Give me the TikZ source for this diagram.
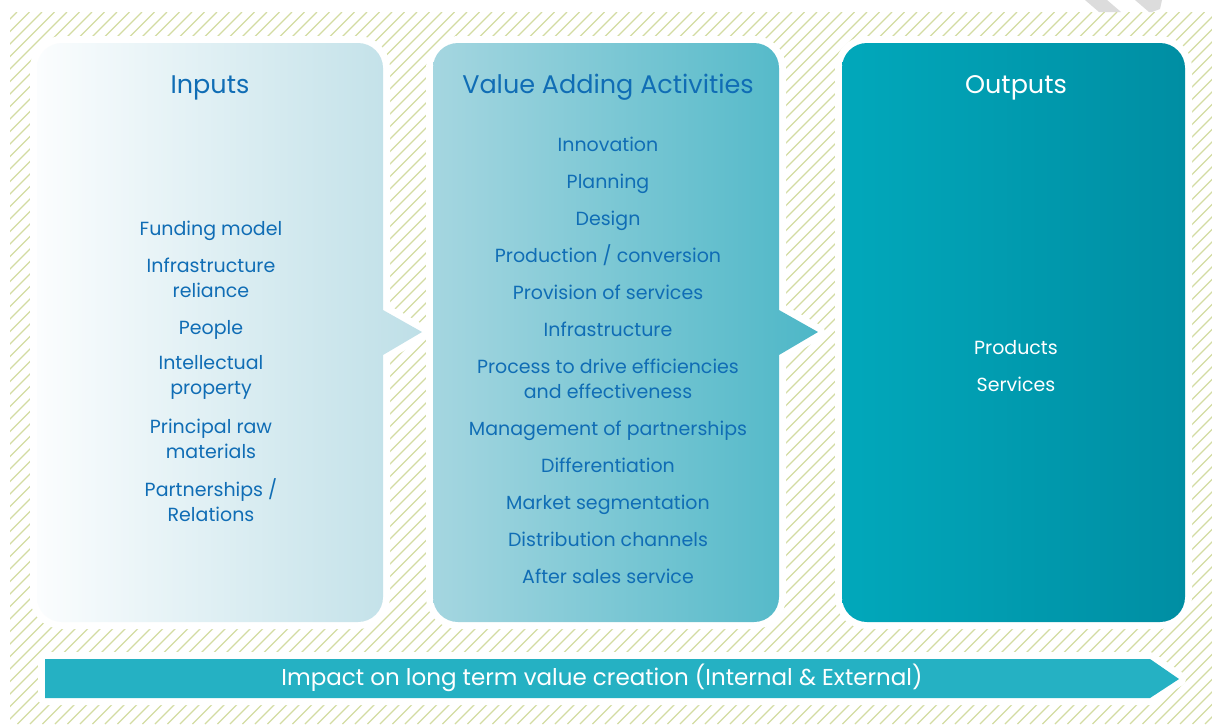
\documentclass[tikz,border=0pt]{standalone}
\usepackage{fontspec}
\setmainfont{Poppins}
\usetikzlibrary{calc}
\definecolor{hatch}{HTML}{D3DCA2}
\definecolor{txtblue}{HTML}{106DB5}
\definecolor{inL}{HTML}{FBFDFE}
\definecolor{inR}{HTML}{BEDFE7}
\definecolor{vaL}{HTML}{A5D6E0}
\definecolor{vaR}{HTML}{4DB7C7}
\definecolor{outL}{HTML}{01A8BB}
\definecolor{outR}{HTML}{008EA3}
\definecolor{impact}{HTML}{25B1C3}
\definecolor{wmark}{HTML}{DCDCDC}
\tikzset{
  halo/.style={draw=white, line width=14pt, line join=round},
  title/.style={font=\fontsize{25.5}{30}\selectfont, anchor=base},
  item/.style={font=\fontsize{19}{25}\selectfont, align=center, text=txtblue},
  one/.style={item, text height=19.5pt, text depth=4.5pt},
  bluetitle/.style={title, text=txtblue},
  whiteitem/.style={one, text=white},
}
\begin{document}
\begin{tikzpicture}[x=1pt,y=-1pt]
\useasboundingbox (0,0) rectangle (1212,724);
\fill[white] (0,0) rectangle (1212,724);
% watermark fragments
\fill[wmark] (1085,0) -- (1107,0) -- (1121,12) -- (1099,12) -- cycle;
\fill[wmark] (1135,0) -- (1162,0) -- (1160,9) -- (1152,12) -- (1149,12) -- cycle;
% hatched background
\begin{scope}
\clip (10,12) rectangle (1212,724);
\foreach \i in {0,...,156}{
  \draw[hatch, line width=1.3pt] ({-720+12.5*\i},724) -- ({-8+12.5*\i},12);
}
\end{scope}
% shapes
\def\inpath{(62,43) -- (358,43) arc[start angle=-90,end angle=0,radius=25] -- (383,310) -- (422,332) -- (383,355) -- (383,597) arc[start angle=0,end angle=90,radius=25] -- (62,622) arc[start angle=90,end angle=180,radius=25] -- (37,68) arc[start angle=180,end angle=270,radius=25] -- cycle}
\def\vapath{(458,43) -- (754,43) arc[start angle=-90,end angle=0,radius=25] -- (779,310) -- (818,332) -- (779,355) -- (779,597) arc[start angle=0,end angle=90,radius=25] -- (458,622) arc[start angle=90,end angle=180,radius=25] -- (433,68) arc[start angle=180,end angle=270,radius=25] -- cycle}
\def\outpath{(867,43) -- (1160,43) arc[start angle=-90,end angle=0,radius=25] -- (1185,597) arc[start angle=0,end angle=90,radius=25] -- (867,622) arc[start angle=90,end angle=180,radius=25] -- (842,68) arc[start angle=180,end angle=270,radius=25] -- cycle}
\def\impactpath{(45,659) -- (1150,659) -- (1179,679) -- (1150,698) -- (45,698) -- cycle}
\draw[halo] \inpath;
\draw[halo] \vapath;
\draw[halo] \outpath;
\draw[halo] \impactpath;
\shade[left color=inL, right color=inR] \inpath;
\shade[left color=vaL, right color=vaR] \vapath;
\shade[left color=outL, right color=outR] \outpath;
\fill[impact] \impactpath;
% titles
\node[bluetitle] (tin) at (210,93) {Inputs};
\node[bluetitle] (tva) at (608,93) {Value Adding Activities};
\node[title, text=white] (tout) at (1016,93) {Outputs};
% inputs
\node[one] (i1) at (211,228) {Funding model};
\node[item] (i2) at (211,278) {Infrastructure\\reliance};
\node[one] (i3) at (211,327) {People};
\node[item] (i4) at (211,377) {Intellectual\\property};
\node[item] (i5) at (211,439) {Principal raw\\materials};
\node[item] (i6) at (211,500) {Partnerships /\\Relations};
% value adding
\node[one] (v1) at (608,144) {Innovation};
\node[one] (v2) at (608,181) {Planning};
\node[one] (v3) at (608,218) {Design};
\node[one] (v4) at (608,255) {Production / conversion};
\node[one] (v5) at (608,292) {Provision of services};
\node[one] (v6) at (608,329) {Infrastructure};
\node[item] (v7) at (608,379) {Process to drive efficiencies\\and effectiveness};
\node[one] (v8) at (608,428) {Management of partnerships};
\node[one] (v9) at (608,465) {Differentiation};
\node[one] (v10) at (608,502) {Market segmentation};
\node[one] (v11) at (608,539) {Distribution channels};
\node[one] (v12) at (608,576) {After sales service};
% outputs
\node[whiteitem] (o1) at (1016,347) {Products};
\node[whiteitem] (o2) at (1016,384) {Services};
% impact
\node[font=\fontsize{23}{28}\selectfont, text=white] (imp) at (602,678) {Impact on long term value creation (Internal \& External)};
\end{tikzpicture}
\end{document}
